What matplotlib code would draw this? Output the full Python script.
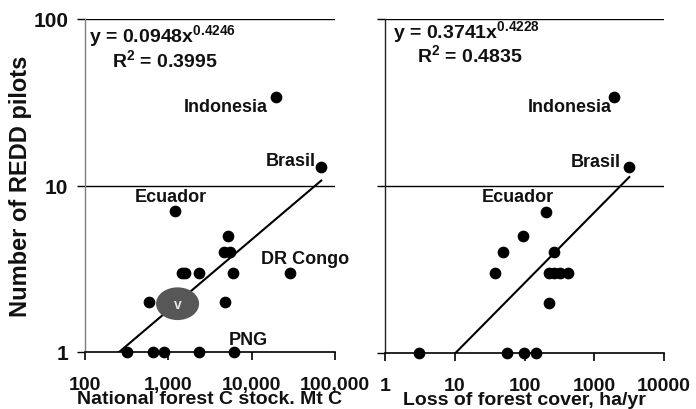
import numpy as np
import matplotlib
matplotlib.use("Agg")
import matplotlib.pyplot as plt
from matplotlib.ticker import FixedLocator, NullLocator
from matplotlib.path import Path

plt.rcParams['font.family'] = ['Liberation Sans', 'DejaVu Sans']
plt.rcParams['font.weight'] = 'bold'
plt.rcParams['mathtext.fontset'] = 'custom'
plt.rcParams['mathtext.rm'] = 'Liberation Sans'
plt.rcParams['mathtext.bf'] = 'Liberation Sans:bold'

#---------------------------------------------------
# data
#---------------------------------------------------
# left panel: national forest carbon stock (Mt C) vs number of REDD pilots
stock_x = [316, 646, 890, 2317, 6140, 1197, 5200, 4620, 5460,
           1440, 1580, 2340, 5970, 29000, 590, 4750, 19800, 68400]
stock_y = [1, 1, 1, 1, 1, 7, 5, 4, 4,
           3, 3, 3, 3, 3, 2, 2, 34, 13]
stock_fit = (0.0948, 0.4246, 0.3995)
stock_fit_range = (250, 68400)
stock_labels = {"Indonesia": (19800, 34), "Brasil": (68400, 13),
                "Ecuador": (1197, 7), "DR Congo": (29000, 3), "PNG": (6140, 1)}
# highlighted grey marker
v_point = (1290, 1.95)

# right panel: loss of forest cover (ha/yr) vs number of REDD pilots
loss_x = [3.1, 55.6, 98, 145, 201, 94, 48.7, 265, 37.8,
          224, 268, 323, 425, 224, 1940, 3180]
loss_y = [1, 1, 1, 1, 7, 5, 4, 4, 3,
          3, 3, 3, 3, 2, 34, 13]
loss_fit = (0.3741, 0.4228, 0.4835)
loss_fit_range = (10, 3180)
loss_labels = {"Indonesia": (1940, 34), "Brasil": (3180, 13), "Ecuador": (201, 7)}

left_ticks = [100, 1000, 10000, 100000]
left_ticklabels = ["100", "1,000", "10,000", "100,000"]
right_ticks = [1, 10, 100, 1000, 10000]
right_ticklabels = ["1", "10", "100", "1000", "10000"]
y_ticks = [1, 10, 100]
y_ticklabels = ["1", "10", "100"]

W, H = 696, 410
fig = plt.figure(figsize=(W / 100, H / 100), dpi=100)
fig.patch.set_facecolor('white')


def px_axes(x0, x1, ytop, ybot):
    return fig.add_axes([x0 / W, 1 - ybot / H, (x1 - x0) / W, (ybot - ytop) / H])


ax1 = px_axes(85, 335, 20, 353)
ax2 = px_axes(385, 664, 20, 354)


def style(ax, xticks, xlabels, xlim, xlabel, left_color):
    ax.set_xscale('log')
    ax.set_yscale('log')
    ax.set_xlim(*xlim)
    ax.set_ylim(1, 100)
    ax.spines['top'].set_visible(False)
    ax.spines['right'].set_visible(False)
    ax.spines['left'].set_color(left_color)
    ax.spines['left'].set_linewidth(1.0)
    ax.spines['bottom'].set_linewidth(1.2)
    ax.xaxis.set_major_locator(FixedLocator(xticks))
    ax.xaxis.set_minor_locator(NullLocator())
    ax.yaxis.set_minor_locator(NullLocator())
    ax.set_xticks(xticks)
    ax.set_xticklabels(xlabels, fontsize=14, fontweight='bold', color='#111111')
    ax.tick_params(axis='x', direction='out', length=6, width=1.2, pad=11)
    ax.tick_params(axis='y', direction='out', length=6, width=1.0, pad=6)
    ax.yaxis.set_major_locator(FixedLocator(y_ticks))
    for yv in (10, 100):
        ax.axhline(yv, color='black', lw=1.0, zorder=1)
    ax.set_xlabel(xlabel, fontsize=14, fontweight='bold', labelpad=-2)
    ax.xaxis.label.set_color('#111111')


style(ax1, left_ticks, left_ticklabels, (100, 100000),
      "National forest C stock. Mt C", '#7f7f7f')
style(ax2, right_ticks, right_ticklabels, (1, 10000),
      "Loss of forest cover, ha/yr", '#222222')

ax1.set_yticks(y_ticks)
ax1.set_yticklabels(y_ticklabels, fontsize=15, fontweight='bold', color='#111111')
ax1.set_ylabel("Number of REDD pilots", fontsize=17, fontweight='bold',
               labelpad=1, color='#111111')
ax2.set_yticks(y_ticks)
ax2.set_yticklabels([])


def draw(ax, xs, ys, fit, fit_range, labels, eq_pos, r_pos, label_offsets):
    ax.scatter(xs, ys, s=55, color='black', zorder=4, clip_on=False)
    a, b, r2 = fit
    xf = np.logspace(np.log10(fit_range[0]), np.log10(fit_range[1]), 100)
    ax.plot(xf, a * xf ** b, color='black', lw=1.5, zorder=3)
    ax.text(eq_pos[0], eq_pos[1], r"y = %.4fx$^{\mathrm{%.4f}}$" % (a, b),
            transform=ax.transAxes, fontsize=14, fontweight='bold',
            va='baseline', color='#111111')
    ax.text(r_pos[0], r_pos[1], r"R$^{\mathrm{2}}$ = %.4f" % r2,
            transform=ax.transAxes, fontsize=14, fontweight='bold',
            va='baseline', color='#111111')
    for name, (lx, ly) in labels.items():
        dx, dy, ha = label_offsets[name]
        ax.annotate(name, (lx, ly), xytext=(dx, dy), textcoords='offset points',
                    ha=ha, va='center', fontsize=13, fontweight='bold', color='#111111')


draw(ax1, stock_x, stock_y, stock_fit, stock_fit_range, stock_labels,
     (0.016, 0.93), (0.108, 0.855),
     {"Indonesia": (-6, -7, 'right'), "Brasil": (-4, 4, 'right'),
      "Ecuador": (-3, 11, 'center'), "DR Congo": (11, 10, 'center'),
      "PNG": (10, 9, 'center')})
draw(ax2, loss_x, loss_y, loss_fit, loss_fit_range, loss_labels,
     (0.029, 0.942), (0.115, 0.87),
     {"Indonesia": (-1.5, -7, 'right'), "Brasil": (-6, 4, 'right'),
      "Ecuador": (-20, 11, 'center')})

# grey highlighted marker (an ellipse) with its letter
circ = Path.unit_circle()
ellipse = Path(circ.vertices * np.array([1.0, 0.76]), circ.codes)
ax1.scatter([v_point[0]], [v_point[1]], s=31 ** 2, marker=ellipse, color='#575757',
            zorder=5, edgecolors='none')
ax1.text(v_point[0], v_point[1], "v", ha='center', va='center', fontsize=10,
         fontweight='bold', color='#e6e6e6', zorder=6)

fig.savefig("out.png", dpi=100, facecolor='white')
